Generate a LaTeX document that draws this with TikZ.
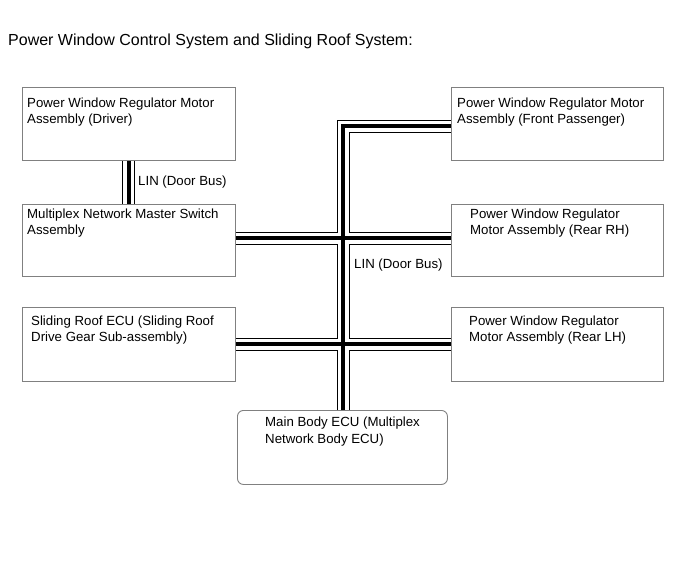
\documentclass[tikz,border=0pt]{standalone}
\usepackage{fontspec}
\setmainfont{Liberation Sans}
\begin{document}
\begin{tikzpicture}[x=1pt,y=-1pt,
  box/.style={draw=black!50, line width=0.9pt, anchor=north west, inner sep=0pt, minimum width=213pt},
  txt/.style={anchor=base west, inner sep=0pt, font=\fontsize{13.25}{16}\selectfont},
  ttl/.style={anchor=base west, inner sep=0pt, font=\fontsize{16}{19}\selectfont}]
\useasboundingbox[fill=white] (0,0) rectangle (691,562);
% title
\node[ttl] (title) at (8,45.5) {Power Window Control System and Sliding Roof System:};
% boxes
\node[box, minimum height=73pt] (driver) at (22,87) {};
\node[box, minimum height=72pt] (master) at (22,204) {};
\node[box, minimum height=74pt] (roof) at (22,307) {};
\node[box, minimum height=73pt, minimum width=212pt] (fp) at (451,87) {};
\node[box, minimum height=72pt, minimum width=212pt] (rrh) at (451,204) {};
\node[box, minimum height=74pt, minimum width=212pt] (rlh) at (451,307) {};
\node[box, minimum height=74pt, minimum width=210pt, rounded corners=6pt] (ecu) at (237,410) {};
% texts
\node[txt] (d1) at (27,107) {Power Window Regulator Motor};
\node[txt] (d2) at (27,123.5) {Assembly (Driver)};
\node[txt] (m1) at (27,218) {Multiplex Network Master Switch};
\node[txt] (m2) at (27,234.5) {Assembly};
\node[txt] (r1) at (31,325) {Sliding Roof ECU (Sliding Roof};
\node[txt] (r2) at (31,341.5) {Drive Gear Sub-assembly)};
\node[txt] (f1) at (457,107) {Power Window Regulator Motor};
\node[txt] (f2) at (457,123.5) {Assembly (Front Passenger)};
\node[txt] (h1) at (470,218) {Power Window Regulator};
\node[txt] (h2) at (470,234.5) {Motor Assembly (Rear RH)};
\node[txt] (l1) at (469,325) {Power Window Regulator};
\node[txt] (l2) at (469,341.5) {Motor Assembly (Rear LH)};
\node[txt] (e1) at (265,426.5) {Main Body ECU (Multiplex};
\node[txt] (e2) at (265,443) {Network Body ECU)};
\node[txt] (lin1) at (138,185.5) {LIN (Door Bus)};
\node[txt] (lin2) at (354,268.5) {LIN (Door Bus)};
% bus junctions
\coordinate (jt) at (343,126);
\coordinate (jm) at (343,238);
\coordinate (jb) at (343,344);
\foreach \w/\c in {13/black, 11/white, 4/black} {
  \draw[line width=\w pt, draw=\c, line join=miter, line cap=butt]
    (jt |- ecu.north) -- (jt) -- (fp.west |- jt);
  \draw[line width=\w pt, draw=\c, line cap=butt] (master.east |- jm) -- (rrh.west |- jm);
  \draw[line width=\w pt, draw=\c, line cap=butt] (roof.east |- jb) -- (rlh.west |- jb);
  \draw[line width=\w pt, draw=\c, line cap=butt] (driver.south) -- (master.north);
}
\end{tikzpicture}
\end{document}
